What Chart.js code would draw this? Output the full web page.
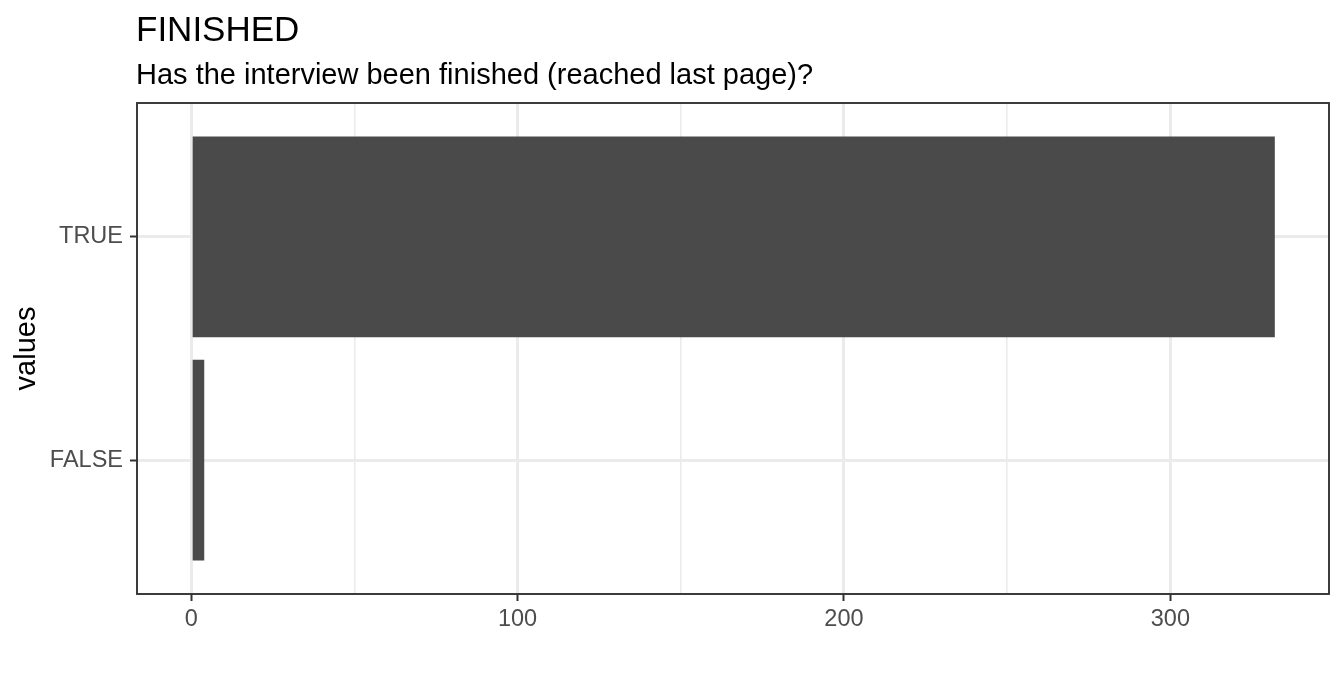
<!DOCTYPE html>
<html>
<head>
<meta charset="utf-8">
<script src="https://cdn.jsdelivr.net/npm/chart.js@4/dist/chart.umd.min.js"></script>
<style>
  html, body { margin: 0; padding: 0; background: #fff; }
  #wrap { width: 1344px; height: 679px; position: relative; }
</style>
</head>
<body>
<div id="wrap"><canvas id="chart"></canvas></div>
<script>
// data
const categories = ['FALSE', 'TRUE']
const counts = [4, 332]
const xTicks = [0, 100, 200, 300]

const titleText = 'FINISHED'
const subtitleText = 'Has the interview been finished (reached last page)?'
const yTitle = 'values'

const FONT = '"Liberation Sans", Arial, Helvetica, sans-serif'

// ggplot-like 5% expansion on the continuous axis
const maxVal = Math.max(...counts)
const pad = maxVal * 0.05

// title, subtitle and panel border drawn around the chart area
const panelDecor = {
  id: 'panelDecor',
  afterDatasetsDraw(chart) {
    const { ctx, chartArea } = chart
    ctx.save()
    ctx.strokeStyle = '#333333'
    ctx.lineWidth = 1.9
    ctx.strokeRect(chartArea.left, chartArea.top, chartArea.right - chartArea.left, chartArea.bottom - chartArea.top)
    ctx.restore()
  },
  afterDraw(chart) {
    const { ctx, chartArea } = chart
    ctx.save()
    ctx.fillStyle = '#000'
    ctx.textAlign = 'left'
    ctx.textBaseline = 'alphabetic'
    ctx.font = '35px ' + FONT
    ctx.fillText(titleText, chartArea.left - 1, 41)
    ctx.font = '29px ' + FONT
    ctx.fillText(subtitleText, chartArea.left - 1, 84)
    ctx.restore()
  }
}

const ctx = document.getElementById('chart').getContext('2d')
new Chart(ctx, {
  type: 'bar',
  data: {
    datasets: [{
      data: categories.map((c, i) => ({ x: counts[i], y: i + 1 })),
      backgroundColor: '#4a4a4a',
      borderWidth: 0,
      barPercentage: 0.9,
      categoryPercentage: 1
    }]
  },
  options: {
    indexAxis: 'y',
    responsive: true,
    maintainAspectRatio: false,
    animation: false,
    devicePixelRatio: 1,
    layout: { padding: { left: 0, right: 15, top: 103, bottom: 0 } },
    plugins: {
      legend: { display: false },
      tooltip: { enabled: false }
    },
    scales: {
      x: {
        type: 'linear',
        min: -pad,
        max: maxVal + pad,
        afterBuildTicks: (scale) => {
          scale.ticks = [50, 150, 250].concat(xTicks).sort((a, b) => a - b).map(v => ({ value: v }))
        },
        afterFit: (scale) => { scale.height = 85 },
        border: { display: false },
        grid: {
          color: '#ebebeb',
          lineWidth: (c) => (c.tick && c.tick.value % 100 === 0 ? 3 : 1.6),
          tickLength: 7,
          tickWidth: 2,
          tickColor: (c) => (c.tick && c.tick.value % 100 === 0 ? '#333333' : 'rgba(0,0,0,0)')
        },
        ticks: {
          padding: 4,
          color: '#4d4d4d',
          font: { family: FONT, size: 23.5 },
          maxRotation: 0,
          autoSkip: false,
          callback: (v) => (v % 100 === 0 ? String(v) : '')
        }
      },
      y: {
        type: 'linear',
        offset: false,
        min: 0.4,
        max: categories.length + 0.6,
        afterBuildTicks: (scale) => {
          scale.ticks = categories.map((c, i) => ({ value: i + 1 }))
        },
        afterFit: (scale) => { scale.width = 137 },
        border: { display: false },
        grid: {
          offset: false,
          color: '#ebebeb',
          lineWidth: 3,
          tickLength: 7,
          tickWidth: 2,
          tickColor: '#333333'
        },
        ticks: {
          padding: 7,
          color: '#4d4d4d',
          font: { family: FONT, size: 23.5 },
          callback: (v) => categories[v - 1]
        },
        title: {
          display: true,
          text: yTitle,
          color: '#000',
          font: { family: FONT, size: 29 },
          padding: { top: 10, bottom: 0 }
        }
      }
    }
  },
  plugins: [panelDecor]
})
</script>
</body>
</html>
